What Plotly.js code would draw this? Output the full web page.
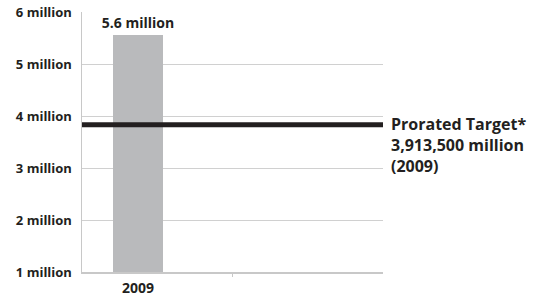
<!DOCTYPE html>
<html>
<head>
<meta charset="utf-8">
<script src="https://cdn.plot.ly/plotly-3.0.1.min.js"></script>
<style>html,body{margin:0;padding:0;background:#fff;}#chart{width:545px;height:296px;}</style>
</head>
<body>
<div id="chart"></div>
<script>
// Data
var categories = [0];
var categoryLabels = ["2009"];
var actualValues = [5.55];          // millions
var barLabels = ["5.6 million"];
var targetValue = 3.83;             // millions (prorated target line)
var targetLabel = "Prorated Target*<br>3,913,500 million<br>(2009)";
var yTickVals = [1, 2, 3, 4, 5, 6];
var yTickText = ["1 million", "2 million", "3 million", "4 million", "5 million", "6 million"];

var textColor = "#231f20";
var fontFam = "'Open Sans', sans-serif";

var trace = {
  type: "bar",
  x: categories,
  y: actualValues,
  width: 1,
  marker: {color: "#b9babc"},
  text: barLabels,
  textposition: "outside",
  constraintext: "none",
  cliponaxis: false,
  textfont: {family: fontFam, size: 14, color: textColor, weight: "bold"},
  hoverinfo: "none"
};

var layout = {
  width: 545,
  height: 296,
  margin: {l: 82, r: 162, t: 12, b: 24},
  paper_bgcolor: "#fff",
  plot_bgcolor: "#fff",
  showlegend: false,
  bargap: 0,
  xaxis: {
    type: "linear",
    range: [-1.12, 4.9],
    tickvals: categories,
    ticktext: categoryLabels,
    ticks: "",
    showgrid: false,
    zeroline: false,
    showline: true,
    linecolor: "#c8c8c8",
    linewidth: 1.5,
    ticklabelstandoff: 3,
    tickfont: {family: fontFam, size: 14, color: textColor, weight: "bold"},
    minor: {tickvals: [1.88], ticks: "outside", ticklen: 3, tickcolor: "#c8c8c8", showgrid: false}
  },
  yaxis: {
    range: [1, 6],
    tickvals: yTickVals,
    ticktext: yTickText,
    ticks: "",
    showgrid: true,
    gridcolor: "#d0d0d0",
    gridwidth: 1,
    zeroline: false,
    showline: true,
    linecolor: "#c8c8c8",
    linewidth: 1.5,
    ticklabelstandoff: 6,
    tickfont: {family: fontFam, size: 13, color: textColor, weight: "bold"}
  },
  shapes: [{
    type: "line",
    xref: "paper", yref: "y",
    x0: 0, x1: 1, y0: targetValue, y1: targetValue,
    line: {color: textColor, width: 5}
  }],
  annotations: [{
    xref: "paper", yref: "y",
    x: 1, y: targetValue,
    xanchor: "left", yanchor: "top",
    xshift: 6, yshift: 14,
    align: "left",
    showarrow: false,
    text: targetLabel,
    font: {family: fontFam, size: 16, color: textColor, weight: "bold"}
  }]
};

Plotly.newPlot("chart", [trace], layout, {displayModeBar: false, staticPlot: true});
</script>
</body>
</html>
